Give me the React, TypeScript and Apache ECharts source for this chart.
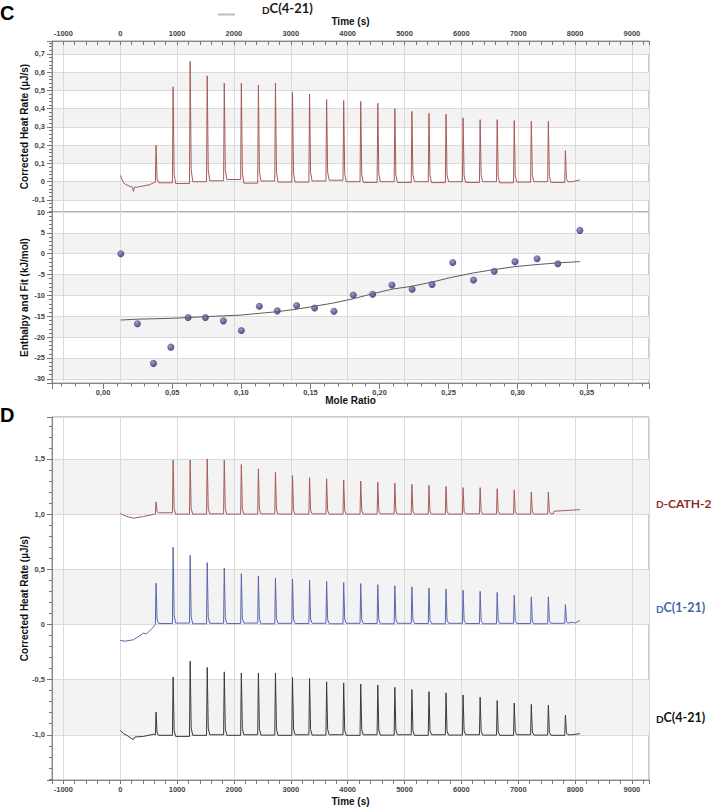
import React, { useEffect, useRef } from 'react';
import * as echarts from 'echarts';

// Injection peak times (s)
const injectionTimes = [630, 930, 1230, 1530, 1830, 2130, 2430, 2730, 3030, 3330, 3630, 3930, 4230, 4530, 4830, 5130, 5430, 5730, 6030, 6330, 6630, 6930, 7230, 7530, 7830];

// Panel C – thermogram of DC(4-21)
const cStart = [[0, 0.035], [60, -0.007], [100, -0.016], [170, -0.025], [215, -0.03], [232, -0.053], [250, -0.03], [300, -0.03], [520, -0.016], [600, -0.004]];
const cPeaks = [0.2, 0.52, 0.66, 0.58, 0.54, 0.54, 0.53, 0.54, 0.49, 0.48, 0.45, 0.445, 0.44, 0.43, 0.4, 0.385, 0.375, 0.37, 0.35, 0.34, 0.34, 0.335, 0.33, 0.33, 0.17];
const cBases = [-0.004, -0.006, -0.01, 0.0, 0.005, 0.012, -0.008, 0.004, -0.002, -0.002, 0.004, 0.008, 0.0, -0.004, 0.0, -0.004, 0.0, -0.005, 0.0, -0.004, 0.0, -0.006, -0.002, 0.0, -0.004, 0.0];
const cEnd = [[7950, 0.0], [8085, 0.01]];

// Panel C – integrated heats and fit
const moleRatio = [0.0128, 0.0248, 0.0364, 0.049, 0.0615, 0.074, 0.087, 0.1, 0.113, 0.126, 0.14, 0.153, 0.167, 0.181, 0.195, 0.209, 0.2236, 0.238, 0.253, 0.268, 0.283, 0.298, 0.314, 0.329, 0.345];
const enthalpy = [0.0, -16.8, -26.3, -22.4, -15.3, -15.3, -16.1, -18.4, -12.6, -13.7, -12.4, -13.0, -13.8, -9.9, -9.7, -7.5, -8.5, -7.4, -2.1, -6.3, -4.2, -1.9, -1.2, -2.4, 5.6];
const enthalpyFit = [-15.9, -15.7, -15.6, -15.5, -15.3, -15.1, -14.9, -14.7, -14.3, -13.9, -13.3, -12.6, -11.8, -10.8, -9.6, -8.5, -7.8, -6.8, -5.6, -4.6, -3.8, -3.1, -2.6, -2.2, -1.9];

// Panel D – D-CATH-2 (offset +1)
const redStart = [[0, 1.005], [60, 0.99], [116, 0.978], [232, 0.963], [408, 0.978], [583, 0.997]];
const redPeaks = [1.11, 1.49, 1.49, 1.5, 1.49, 1.45, 1.41, 1.38, 1.35, 1.33, 1.32, 1.31, 1.3, 1.29, 1.28, 1.27, 1.26, 1.25, 1.24, 1.24, 1.23, 1.22, 1.2, 1.2];
const redBases = [1.0, 1.012, 1.0, 1.0, 1.002, 1.0, 1.0, 1.002, 1.0, 1.0, 1.002, 1.0, 1.0, 1.0, 1.002, 1.0, 1.0, 1.0, 1.0, 1.002, 1.0, 1.0, 1.0, 1.0, 1.003];
const redEnd = [[7615, 1.003], [7630, 1.026], [8085, 1.04]];

// Panel D – DC(1-21) (offset 0)
const blueStart = [[0, -0.145], [88, -0.152], [232, -0.139], [348, -0.1], [408, -0.079], [466, -0.085], [554, -0.039], [610, -0.005]];
const bluePeaks = [0.374, 0.7, 0.625, 0.56, 0.51, 0.46, 0.44, 0.42, 0.41, 0.4, 0.39, 0.38, 0.37, 0.36, 0.35, 0.34, 0.33, 0.32, 0.31, 0.3, 0.29, 0.265, 0.25, 0.25, 0.18];
const blueBases = [0.0, 0.008, 0.012, 0.006, 0.01, 0.008, 0.012, 0.006, 0.01, 0.008, 0.01, 0.006, 0.01, 0.008, 0.006, 0.01, 0.008, 0.006, 0.01, 0.008, 0.006, 0.01, 0.008, 0.006, 0.01, 0.012];
const blueEnd = [[7950, 0.02], [8000, 0.012], [8085, 0.036]];

// Panel D – DC(4-21) (offset -1)
const blackStart = [[0, -0.96], [59, -0.99], [117, -1.005], [231, -1.044], [260, -1.02], [407, -1.015], [583, -0.996]];
const blackPeaks = [-0.795, -0.477, -0.333, -0.39, -0.43, -0.44, -0.44, -0.44, -0.48, -0.49, -0.52, -0.53, -0.54, -0.55, -0.57, -0.59, -0.61, -0.62, -0.64, -0.66, -0.69, -0.713, -0.725, -0.731, -0.822];
const blackBases = [-1.0, -1.005, -1.015, -1.005, -1.0, -1.005, -1.0, -1.003, -1.005, -1.0, -1.003, -1.0, -1.005, -1.0, -1.003, -1.0, -1.005, -1.0, -1.003, -1.0, -1.003, -1.005, -1.0, -1.003, -1.005, -1.0];
const blackEnd = [[7950, -1.0], [8085, -0.99]];

function buildTrace(start: number[][], peaks: number[], bases: number[], end: number[][]) {
  const pts: number[][] = start.map((p) => [p[0], p[1]]);
  peaks.forEach((peak, k) => {
    const t = injectionTimes[k];
    const b0 = bases[k];
    const b1 = bases[k + 1];
    pts.push([t - 12, b0], [t, peak], [t + 18, b1 + (peak - b1) * 0.1], [t + 45, b1]);
  });
  end.forEach((p) => pts.push([p[0], p[1]]));
  return pts;
}

const FONT = '"Liberation Sans", Arial, sans-serif';
const LABEL_FONT = 'Lato, "Open Sans", sans-serif';

function makeFormatter(decimals: number, step: number, zero: string) {
  return (v: number) => {
    const r = v / step;
    if (Math.abs(r - Math.round(r)) > 1e-6) return '';
    if (Math.abs(v) < 1e-9) return zero;
    return v.toFixed(decimals).replace('.', ',');
  };
}

const tickLabel = { fontSize: 7.5, fontWeight: 'bold', color: '#444', fontFamily: FONT };
const nameStyle = { fontSize: 10, fontWeight: 'bold', color: '#111', fontFamily: FONT };
const axisLine = { show: true, onZero: false, lineStyle: { color: '#888', width: 1 } };
const splitLine = { show: true, lineStyle: { color: '#dadada', width: 1 } };
const bands = { show: true, areaStyle: { color: ['rgba(255,255,255,0)', '#f3f3f3'] } };
const tickLine = { color: '#777', width: 1 };

function timeAxis(gridIndex: number, position: string, withName: boolean, inside: boolean) {
  return {
    type: 'value',
    gridIndex,
    position,
    min: -1200,
    max: 9300,
    minInterval: 1000,
    maxInterval: 1000,
    name: withName ? 'Time (s)' : '',
    nameLocation: 'middle',
    nameGap: position === 'top' ? 14.5 : 16,
    nameMoveOverlap: false,
    nameTextStyle: nameStyle,
    axisLine,
    axisTick: { show: true, inside, length: 4, lineStyle: tickLine },
    minorTick: { show: true, splitNumber: 5, length: 4, lineStyle: tickLine },
    axisLabel: { ...tickLabel, margin: position === 'top' ? 4 : 5, formatter: makeFormatter(0, 1000, '0') },
    splitLine,
  };
}

function yAxis(gridIndex: number, min: number, max: number, step: number, decimals: number, name: string) {
  return {
    type: 'value',
    gridIndex,
    min,
    max,
    minInterval: step,
    maxInterval: step,
    name,
    nameLocation: 'middle',
    nameGap: 22.5,
    nameMoveOverlap: false,
    nameTextStyle: nameStyle,
    axisLine,
    axisTick: { show: true, length: 5, lineStyle: tickLine },
    minorTick: { show: true, splitNumber: 5, length: 3, lineStyle: tickLine },
    axisLabel: { ...tickLabel, margin: 7, formatter: makeFormatter(decimals, step, '0') },
    splitLine,
    splitArea: bands,
  };
}

const gridBase = { left: 52, width: 597, show: true, borderColor: '#999', borderWidth: 1, containLabel: false, outerBoundsMode: 'none' };

function smallCapsText(x: number, y: number, rest: string, color: string, size: number) {
  return {
    type: 'text',
    x,
    y,
    style: {
      text: '{s|D}' + rest,
      fill: color,
      font: `bold ${size}px ${LABEL_FONT}`,
      verticalAlign: 'middle',
      textVerticalAlign: 'middle',
      rich: {
        s: { fontSize: Math.round(size * 0.8), fontWeight: 'bold', fontFamily: LABEL_FONT, fill: color, verticalAlign: 'bottom' },
      },
    },
  };
}

export default function App() {
  const ref = useRef<HTMLDivElement>(null);

  useEffect(() => {
    if (!ref.current) return;
    const chart = echarts.init(ref.current, undefined, { renderer: 'svg' });

    const option = {
      animation: false,
      backgroundColor: '#ffffff',
      grid: [
        { ...gridBase, top: 41, height: 171 },
        { ...gridBase, top: 212, height: 171 },
        { ...gridBase, top: 417, height: 363 },
      ],
      xAxis: [
        timeAxis(0, 'top', true, true),
        {
          type: 'value',
          gridIndex: 1,
          position: 'bottom',
          min: -0.037,
          max: 0.395,
          minInterval: 0.05,
          maxInterval: 0.05,
          name: 'Mole Ratio',
          nameLocation: 'middle',
          nameGap: 12.5,
          nameMoveOverlap: false,
          nameTextStyle: nameStyle,
          axisLine,
          axisTick: { show: true, length: 6, lineStyle: tickLine },
          minorTick: { show: true, splitNumber: 5, length: 3.5, lineStyle: tickLine },
          axisLabel: { ...tickLabel, margin: 5, formatter: makeFormatter(2, 0.05, '0,00') },
          splitLine: { show: false },
        },
        {
          type: 'value',
          gridIndex: 1,
          position: 'top',
          min: -1200,
          max: 9300,
          minInterval: 1000,
          maxInterval: 1000,
          axisLine: { show: false, onZero: false },
          axisTick: { show: false },
          axisLabel: { show: false },
          splitLine,
        },
        timeAxis(2, 'bottom', true, false),
      ],
      yAxis: [
        yAxis(0, -0.166, 0.771, 0.1, 1, 'Corrected Heat Rate (µJ/s)'),
        yAxis(1, -31, 10, 5, 0, 'Enthalpy and Fit (kJ/mol)'),
        yAxis(2, -1.41, 1.88, 0.5, 1, 'Corrected Heat Rate (µJ/s)'),
      ],
      series: [
        {
          name: 'DC(4-21) thermogram',
          type: 'line',
          xAxisIndex: 0,
          yAxisIndex: 0,
          data: buildTrace(cStart, cPeaks, cBases, cEnd),
          showSymbol: false,
          lineStyle: { color: '#a85a5a', width: 1 },
          silent: true,
        },
        {
          name: 'Fit',
          type: 'line',
          xAxisIndex: 1,
          yAxisIndex: 1,
          data: moleRatio.map((m, i) => [m, enthalpyFit[i]]),
          showSymbol: false,
          lineStyle: { color: '#5c5c5c', width: 1 },
          silent: true,
        },
        {
          name: 'Enthalpy',
          type: 'scatter',
          xAxisIndex: 1,
          yAxisIndex: 1,
          data: moleRatio.map((m, i) => [m, enthalpy[i]]),
          symbolSize: 7,
          itemStyle: {
            color: {
              type: 'radial',
              x: 0.4,
              y: 0.35,
              r: 0.65,
              colorStops: [
                { offset: 0, color: '#8383c4' },
                { offset: 1, color: '#222260' },
              ],
            },
          },
          silent: true,
        },
        {
          name: 'D-CATH-2',
          type: 'line',
          xAxisIndex: 3,
          yAxisIndex: 2,
          data: buildTrace(redStart, redPeaks, redBases, redEnd),
          showSymbol: false,
          lineStyle: { color: '#a85a5a', width: 1 },
          silent: true,
        },
        {
          name: 'DC(1-21)',
          type: 'line',
          xAxisIndex: 3,
          yAxisIndex: 2,
          data: buildTrace(blueStart, bluePeaks, blueBases, blueEnd),
          showSymbol: false,
          lineStyle: { color: '#5c66ad', width: 1 },
          silent: true,
        },
        {
          name: 'DC(4-21)',
          type: 'line',
          xAxisIndex: 3,
          yAxisIndex: 2,
          data: buildTrace(blackStart, blackPeaks, blackBases, blackEnd),
          showSymbol: false,
          lineStyle: { color: '#3a3a3a', width: 1 },
          silent: true,
        },
      ],
      graphic: [
        { type: 'text', x: 0, y: 13, style: { text: 'C', fill: '#000', font: `bold 20px ${FONT}`, verticalAlign: 'middle', textVerticalAlign: 'middle' } },
        { type: 'text', x: 0, y: 415, style: { text: 'D', fill: '#000', font: `bold 20px ${FONT}`, verticalAlign: 'middle', textVerticalAlign: 'middle' } },
        { type: 'line', shape: { x1: 218, y1: 14.5, x2: 235, y2: 14.5 }, style: { stroke: '#bdbdbd', lineWidth: 2 } },
        smallCapsText(262, 8, 'C(4-21)', '#1a1a1a', 13),
        smallCapsText(656, 503, '-CATH-2', '#8a2c2c', 12),
        smallCapsText(656, 607, 'C(1-21)', '#3e6aa6', 12.5),
        smallCapsText(656, 717, 'C(4-21)', '#111111', 12.5),
      ],
    };

    chart.setOption(option as any);
    return () => chart.dispose();
  }, []);

  return (
    <div
      ref={ref}
      style={{ position: 'absolute', left: 0, top: 0, width: 713, height: 809, background: '#fff' }}
    />
  );
}
